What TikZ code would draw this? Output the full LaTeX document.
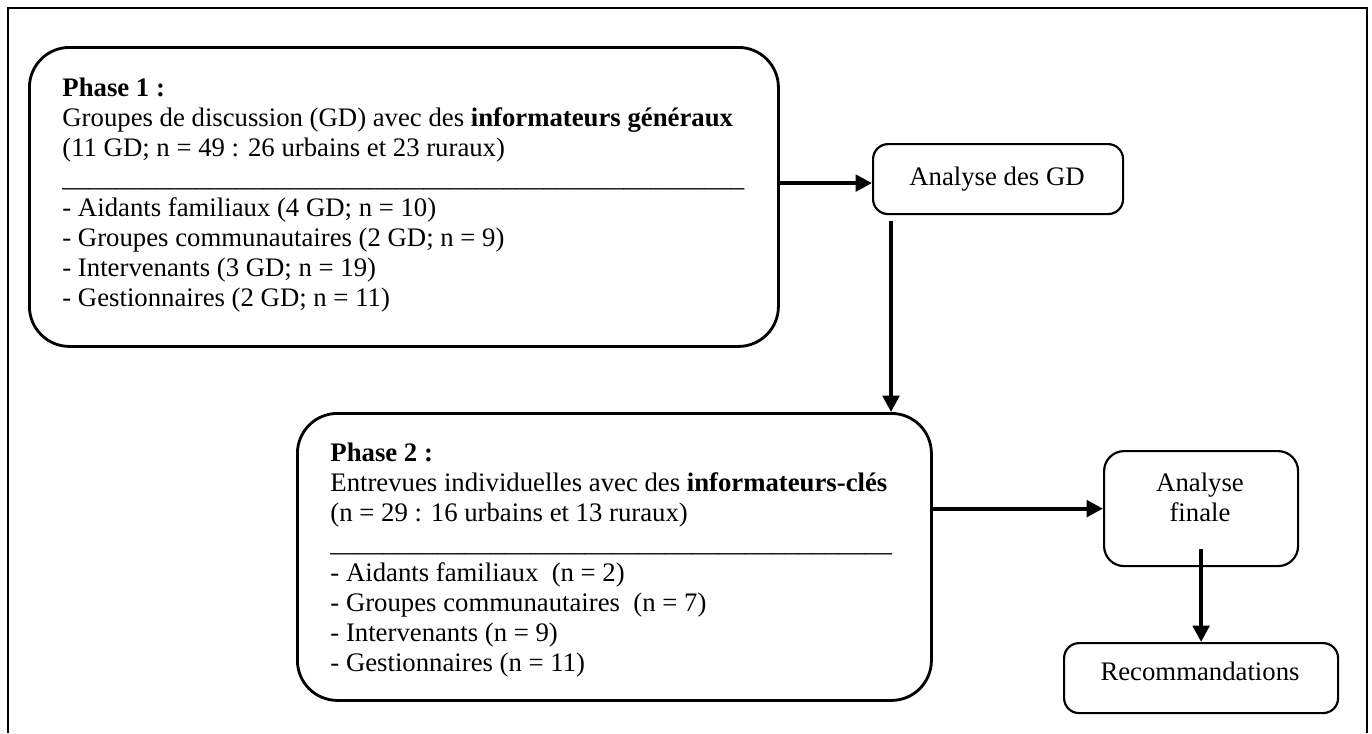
\documentclass[tikz,border=0pt]{standalone}
\usepackage{fontspec}
\setmainfont{Liberation Serif}
\usetikzlibrary{arrows.meta,calc}
\newcommand\pxu{0.46pt}
\newcommand\unders[1]{\foreach\i in {1,...,#1}{\_}}
\begin{document}
\begin{tikzpicture}[x=\pxu, y=-\pxu,
  bigbox/.style={draw, line width=1.3pt, rounded corners=40*\pxu, inner sep=0pt, anchor=north west},
  smallbox/.style={draw, line width=1pt, rounded corners=15*\pxu, inner sep=0pt, anchor=north west},
  txt/.style={inner sep=0pt, font=\fontsize{12.3}{13.8}\selectfont},
  arr/.style={line width=1.8pt, -{Triangle[length=7.5pt,width=7.5pt]}},
  frame/.style={line width=0.7pt}]
\useasboundingbox (0,0) rectangle (1372,733);
% outer frame
\coordinate (f1) at (8,733);
\coordinate (f2) at (8,8);
\coordinate (f3) at (1367,8);
\coordinate (f4) at (1367,733);
\draw[frame] (f1) -- (f2) -- (f3) -- (f4);
% boxes
\node[bigbox, minimum width=749*\pxu, minimum height=299*\pxu] (p1) at (28,46) {};
\node[smallbox, minimum width=250*\pxu, minimum height=70*\pxu] (gd) at (872,143) {};
\node[bigbox, minimum width=634*\pxu, minimum height=287*\pxu] (p2) at (296,412) {};
\node[smallbox, rounded corners=20*\pxu, minimum width=194*\pxu, minimum height=115*\pxu] (af) at (1103,450) {};
\node[smallbox, minimum width=274*\pxu, minimum height=70*\pxu] (rec) at (1063,642) {};
% texts
\node[txt, anchor=north west, align=left] (p1t) at (62,77) {%
\textbf{Phase 1 :}\\
Groupes de discussion (GD) avec des \textbf{informateurs généraux}\\
(11 GD; n = 49 : 26 urbains et 23 ruraux)\\
\unders{51}\\
- Aidants familiaux (4 GD; n = 10)\\
- Groupes communautaires (2 GD; n = 9)\\
- Intervenants (3 GD; n = 19)\\
- Gestionnaires (2 GD; n = 11)};
\begin{scope}
\clip (296,412) rectangle (930,676);
\node[txt, anchor=north west, align=left] (p2t) at (330,442) {%
\textbf{Phase 2 :}\\
Entrevues individuelles avec des \textbf{informateurs-clés}\\
(n = 29 : 16 urbains et 13 ruraux)\\
\unders{42}\\
- Aidants familiaux\ \ (n = 2)\\
- Groupes communautaires\ \ (n = 7)\\
- Intervenants (n = 9)\\
- Gestionnaires (n = 11)};
\end{scope}
\node[txt, anchor=base] (gdt) at (997,185) {Analyse des GD};
\node[txt, anchor=north, align=center] (aft) at (1200,472) {Analyse\\finale};
\node[txt, anchor=base] (rect) at (1200,680) {Recommandations};
% arrows
\draw[arr] ($(p1.east |- gd.west)+(0,4)$) -- ($(gd.west)+(0,4)$);
\coordinate (vs) at ($(gd.south west)+(19,6)$);
\draw[arr] (vs) -- (vs |- p2.north);
\draw[arr] (p2.east |- af.west) -- (af.west);
\draw[arr] ($(af.south)+(0,-18)$) -- (rec.north);
\end{tikzpicture}
\end{document}
